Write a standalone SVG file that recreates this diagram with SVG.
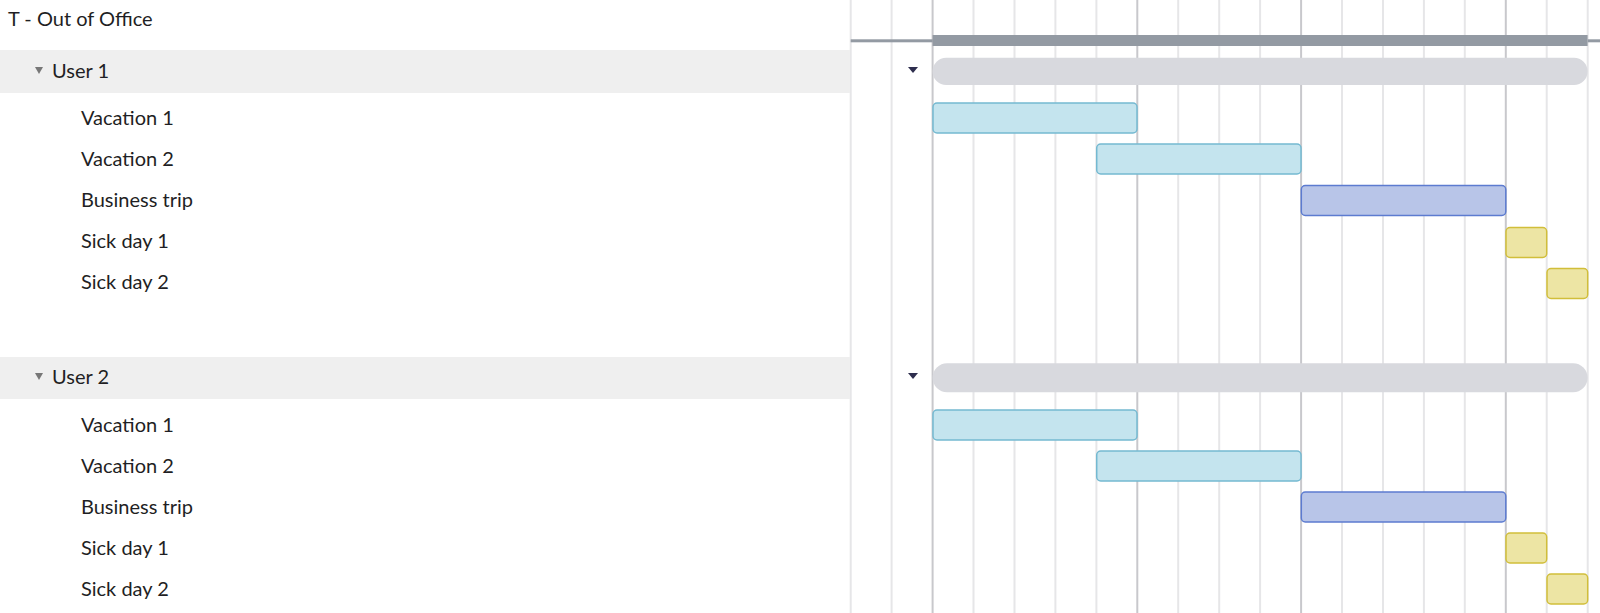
<svg xmlns="http://www.w3.org/2000/svg" width="1600" height="613" viewBox="0 0 1600 613">
<style>
.t{font-family:Lato,"Liberation Sans",sans-serif;font-size:20px;fill:#1f1f24}
.g{stroke:#e6e6e8;stroke-width:2}
.gd{stroke:#c8c8cc;stroke-width:2}
.vac{fill:#c4e4ee;stroke:#74b9d1;stroke-width:1.5}
.bus{fill:#b8c5e8;stroke:#5c7bd0;stroke-width:1.5}
.sick{fill:#ede5a4;stroke:#d1be3a;stroke-width:1.5}
.sum{fill:#d8d9de}
</style>
<rect width="1600" height="613" fill="#fff"/>
<g id="grid">
<line class="g" x1="850.7" y1="0" x2="850.7" y2="613"/>
<line class="g" x1="891.6" y1="0" x2="891.6" y2="613"/>
<line class="gd" x1="932.6" y1="0" x2="932.6" y2="613"/>
<line class="g" x1="973.5" y1="0" x2="973.5" y2="613"/>
<line class="g" x1="1014.5" y1="0" x2="1014.5" y2="613"/>
<line class="g" x1="1055.4" y1="0" x2="1055.4" y2="613"/>
<line class="g" x1="1096.4" y1="0" x2="1096.4" y2="613"/>
<line class="gd" x1="1137.3" y1="0" x2="1137.3" y2="613"/>
<line class="g" x1="1178.2" y1="0" x2="1178.2" y2="613"/>
<line class="g" x1="1219.2" y1="0" x2="1219.2" y2="613"/>
<line class="g" x1="1260.1" y1="0" x2="1260.1" y2="613"/>
<line class="gd" x1="1301.1" y1="0" x2="1301.1" y2="613"/>
<line class="g" x1="1342" y1="0" x2="1342" y2="613"/>
<line class="g" x1="1383" y1="0" x2="1383" y2="613"/>
<line class="g" x1="1423.9" y1="0" x2="1423.9" y2="613"/>
<line class="g" x1="1464.8" y1="0" x2="1464.8" y2="613"/>
<line class="gd" x1="1505.8" y1="0" x2="1505.8" y2="613"/>
<line class="g" x1="1546.7" y1="0" x2="1546.7" y2="613"/>
<line class="g" x1="1587.7" y1="0" x2="1587.7" y2="613"/>
</g>
<g id="header">
<text class="t" x="8" y="26">T - Out of Office</text>
<rect x="850.7" y="39.3" width="82" height="3" fill="#939aa3"/>
<rect x="932.6" y="35" width="655" height="11" fill="#939aa3"/>
<rect x="1587.7" y="39.3" width="12.3" height="3" fill="#939aa3"/>
</g>
<g id="user1">
<rect x="0" y="50" width="850" height="43" fill="#efefef"/>
<path d="M35,67 L43,67 L39,74 Z" fill="#777"/>
<text class="t" x="52" y="78">User 1</text>
<path d="M908,67 L918,67 L913,73 Z" fill="#2e2e4e"/>
<rect class="sum" x="932.6" y="57.7" width="655" height="27.3" rx="13.6"/>
</g>
<g id="u1-vac1"><text class="t" x="81" y="125">Vacation 1</text><rect class="vac" x="933" y="103" width="204" height="30" rx="4"/></g>
<g id="u1-vac2"><text class="t" x="81" y="166">Vacation 2</text><rect class="vac" x="1096.7" y="144" width="204.3" height="30" rx="4"/></g>
<g id="u1-bus"><text class="t" x="81" y="207">Business trip</text><rect class="bus" x="1301.3" y="185.5" width="204.5" height="30" rx="4"/></g>
<g id="u1-sick1"><text class="t" x="81" y="248">Sick day 1</text><rect class="sick" x="1506" y="227.5" width="40.7" height="30" rx="4"/></g>
<g id="u1-sick2"><text class="t" x="81" y="289">Sick day 2</text><rect class="sick" x="1547" y="268.5" width="40.7" height="30" rx="4"/></g>
<g id="user2">
<rect x="0" y="357" width="850" height="42" fill="#efefef"/>
<path d="M35,373 L43,373 L39,380 Z" fill="#777"/>
<text class="t" x="52" y="384">User 2</text>
<path d="M908,373 L918,373 L913,379 Z" fill="#2e2e4e"/>
<rect class="sum" x="932.6" y="363.3" width="655" height="29" rx="14.5"/>
</g>
<g id="u2-vac1"><text class="t" x="81" y="432">Vacation 1</text><rect class="vac" x="933" y="410" width="204" height="30" rx="4"/></g>
<g id="u2-vac2"><text class="t" x="81" y="473">Vacation 2</text><rect class="vac" x="1096.7" y="451" width="204.3" height="30" rx="4"/></g>
<g id="u2-bus"><text class="t" x="81" y="514">Business trip</text><rect class="bus" x="1301.3" y="492" width="204.5" height="30" rx="4"/></g>
<g id="u2-sick1"><text class="t" x="81" y="555">Sick day 1</text><rect class="sick" x="1506" y="533" width="40.7" height="30" rx="4"/></g>
<g id="u2-sick2"><text class="t" x="81" y="596">Sick day 2</text><rect class="sick" x="1547" y="574" width="40.7" height="30" rx="4"/></g>
<g id="connectors"/>
</svg>
